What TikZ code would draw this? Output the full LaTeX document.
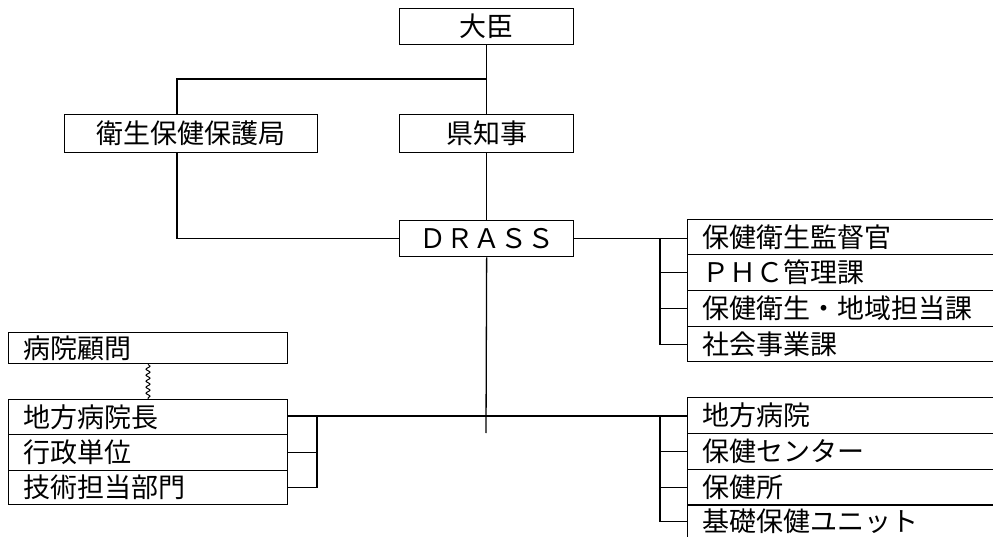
\documentclass[tikz,border=0pt]{standalone}
\usepackage{fontspec}
\newfontfamily\jp{Noto Sans CJK JP}
\usetikzlibrary{decorations.pathmorphing}
\begin{document}
\begin{tikzpicture}[x=1pt,y=-1pt,line width=1.3pt,
  jpfont/.style={font=\jp\fontsize{27}{29}\selectfont},
  cbox/.style={draw,jpfont,anchor=north west,inner sep=0pt,minimum width=174pt,minimum height=#1},
  rbox/.style={draw,jpfont,anchor=north west,inner xsep=15pt,inner ysep=0pt,text width=300pt,align=left,minimum height=#1},
  lbox/.style={draw,jpfont,anchor=north west,inner xsep=15pt,inner ysep=0pt,text width=249pt,align=left,minimum height=#1},
  conn/.style={draw,line width=1.3pt},
  wavy/.style={draw,line width=1pt,decorate,decoration={snake,amplitude=2pt,segment length=6pt}}
]
\useasboundingbox (0,0) rectangle (993,537);
\clip (0,0) rectangle (993,537);
% top
\node[cbox=36pt] (daijin) at (399,8) {大臣};
\node[cbox=38pt,minimum width=253pt] (eisei) at (64,114) {衛生保健保護局};
\node[cbox=38pt] (kenchiji) at (399,114) {県知事};
\node[cbox=36pt] (drass) at (399,220) {ＤＲＡＳＳ};
% right upper
\node[rbox=35pt] (r1) at (687,219) {保健衛生監督官};
\node[rbox=36pt] (r2) at (687,254) {ＰＨＣ管理課};
\node[rbox=36pt] (r3) at (687,290) {保健衛生・地域担当課};
\node[rbox=35pt] (r4) at (687,326) {社会事業課};
% right lower
\node[rbox=36pt] (s1) at (687,397) {地方病院};
\node[rbox=36pt] (s2) at (687,433) {保健センター};
\node[rbox=36pt] (s3) at (687,469) {保健所};
\node[rbox=33pt] (s4) at (687,504) {基礎保健ユニット};
% left lower
\node[lbox=31pt] (adv) at (8,332) {病院顧問};
\node[lbox=35pt] (l1) at (8,399) {地方病院長};
\node[lbox=36pt] (l2) at (8,434) {行政単位};
\node[lbox=34pt] (l3) at (8,470) {技術担当部門};
% coordinates
\coordinate (br) at (486,79);
\coordinate (eL) at (177,79);
\coordinate (bR) at (660,238);
\coordinate (bRL) at (660,415);
\coordinate (bL) at (317,416);
\coordinate (vend) at (486,433);
\coordinate (wx) at (148,0);
% connectors
\path[conn] (daijin.south) -- (kenchiji.north);
\path[conn] (kenchiji.south) -- (drass.north);
\path[conn] (drass.south) -- (vend);
\path[conn] (br) -- (eL) -- (eL |- eisei.north);
\path[conn] (eL |- eisei.south) |- (drass.west);
\path[conn] (drass.east) -- (r1.west |- drass.east);
\path[conn] (bR) |- (r4.west);
\path[conn] (bR |- r2.west) -- (r2.west);
\path[conn] (bR |- r3.west) -- (r3.west);
\path[conn] (l1.east |- bL) -- (s1.west |- bL);
\path[conn] (bRL) |- (s4.west);
\path[conn] (bRL |- s2.west) -- (s2.west);
\path[conn] (bRL |- s3.west) -- (s3.west);
\path[conn] (bL) |- (l3.east);
\path[conn] (bL |- l2.east) -- (l2.east);
\path[wavy] (wx |- adv.south) -- (wx |- l1.north);
\end{tikzpicture}
\end{document}
